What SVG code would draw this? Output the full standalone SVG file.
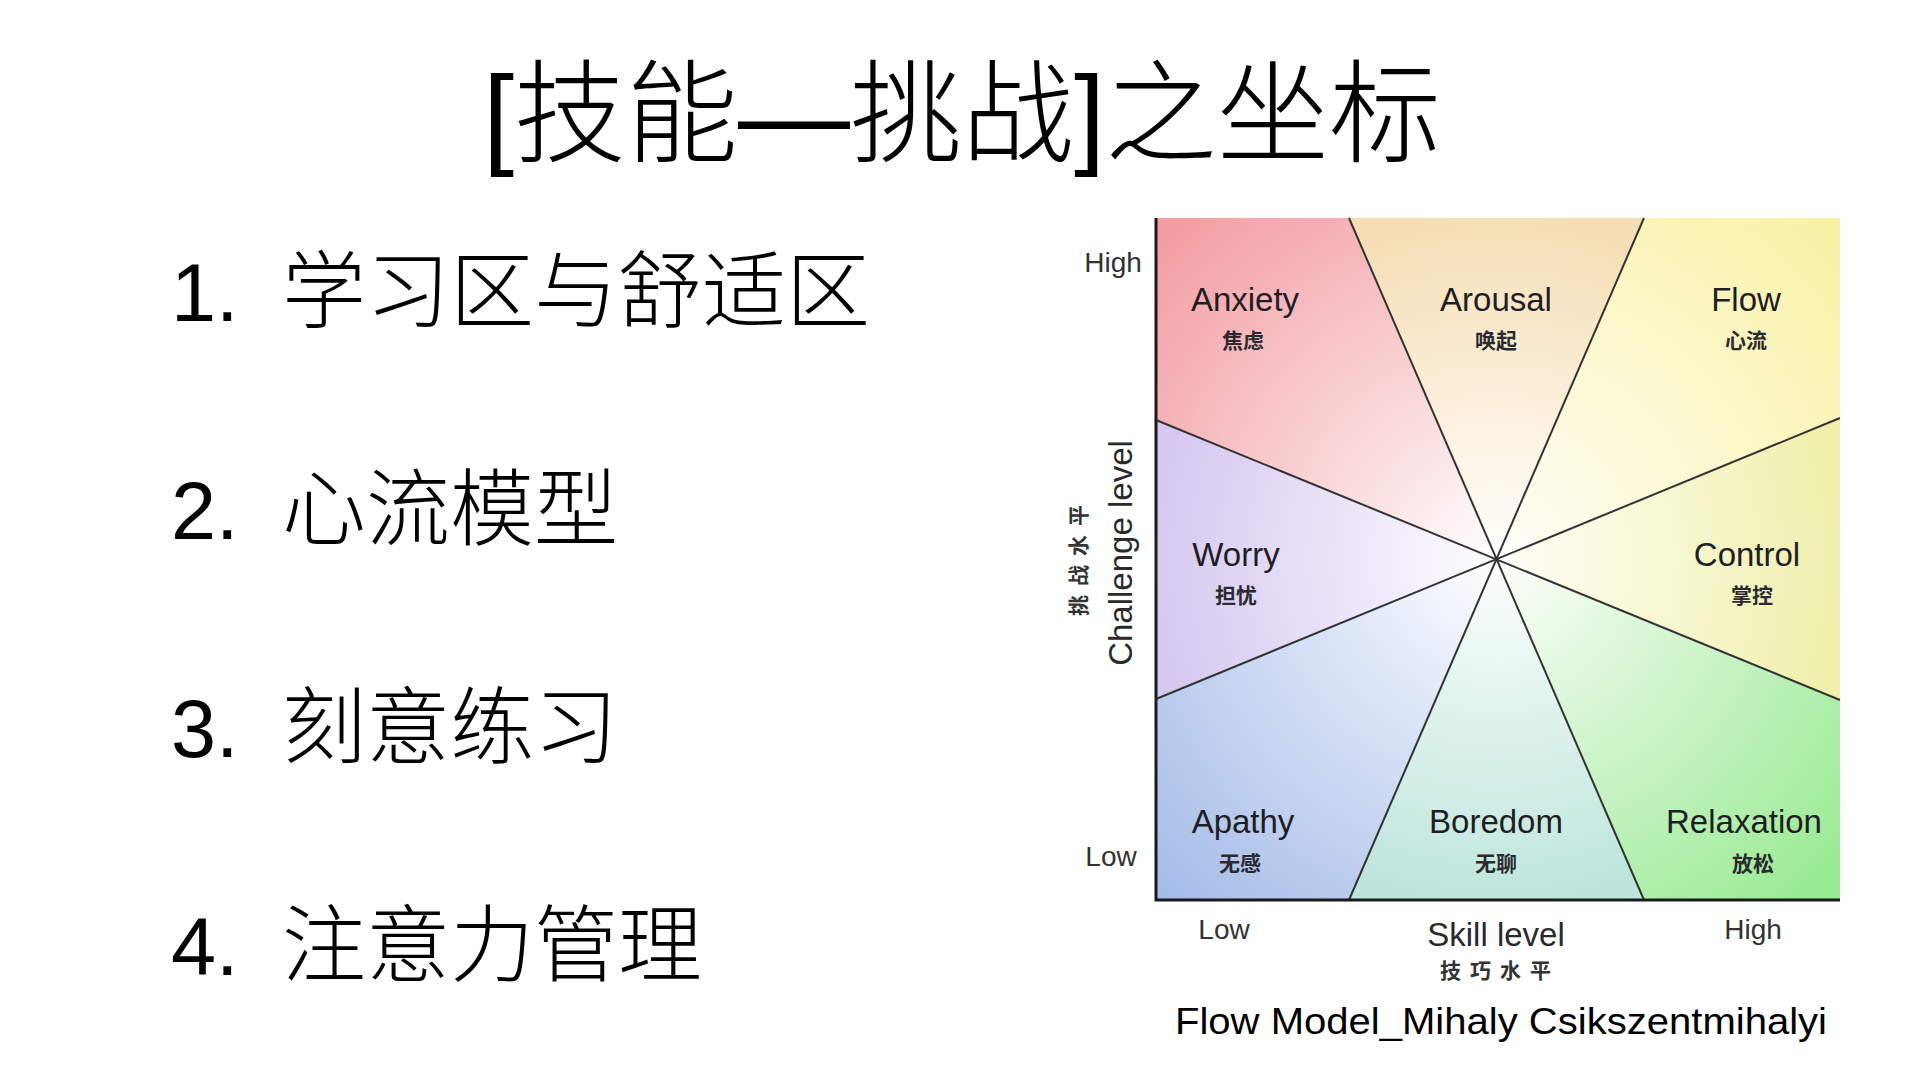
<svg xmlns="http://www.w3.org/2000/svg" width="1920" height="1080" viewBox="0 0 1920 1080">
<style>
.title{font-family:"Liberation Sans","Noto Sans CJK SC",sans-serif;font-size:112px;font-weight:300;fill:#000;text-anchor:middle}
.num{font-family:"Liberation Sans","Noto Sans CJK SC",sans-serif;font-size:81px;fill:#000}
.item{font-family:"Noto Sans CJK SC",sans-serif;font-size:84px;font-weight:300;fill:#000}
.en{font-family:"Liberation Sans","Noto Sans CJK SC",sans-serif;font-size:33px;fill:#1e1e24;text-anchor:middle}
.zh{font-family:"Noto Sans CJK SC",sans-serif;font-size:21px;font-weight:bold;fill:#2a2a30;text-anchor:middle}
.tick{font-family:"Liberation Sans",sans-serif;font-size:28px;fill:#333;text-anchor:middle}
.axis{font-family:"Liberation Sans",sans-serif;font-size:33px;fill:#2a2a2a;text-anchor:middle}
.axzh{font-family:"Noto Sans CJK SC",sans-serif;font-size:21px;font-weight:bold;fill:#333;text-anchor:middle;letter-spacing:9px}
.cap{font-family:"Liberation Sans",sans-serif;font-size:36px;fill:#000;text-anchor:middle}
.div{stroke:#333;stroke-width:2;fill:none}
.ax{stroke:#1a1a1a;stroke-width:3;fill:none}
</style>
<defs>
<radialGradient id="gAnx" gradientUnits="userSpaceOnUse" cx="1496" cy="560" r="470"><stop offset="0" stop-color="#fff"/><stop offset="0.1" stop-color="#fdf4f4"/><stop offset="1" stop-color="#f39ca1"/></radialGradient>
<radialGradient id="gAro" gradientUnits="userSpaceOnUse" cx="1496" cy="560" r="345"><stop offset="0" stop-color="#fff"/><stop offset="0.1" stop-color="#fffcf6"/><stop offset="1" stop-color="#f5deb4"/></radialGradient>
<radialGradient id="gFlo" gradientUnits="userSpaceOnUse" cx="1496" cy="560" r="470"><stop offset="0" stop-color="#fff"/><stop offset="0.1" stop-color="#fffdf0"/><stop offset="1" stop-color="#f8f2a6"/></radialGradient>
<radialGradient id="gCon" gradientUnits="userSpaceOnUse" cx="1496" cy="560" r="345"><stop offset="0" stop-color="#fff"/><stop offset="0.1" stop-color="#fdfdf2"/><stop offset="1" stop-color="#f0f0ac"/></radialGradient>
<radialGradient id="gRel" gradientUnits="userSpaceOnUse" cx="1496" cy="560" r="470"><stop offset="0" stop-color="#fff"/><stop offset="0.1" stop-color="#f4fcf2"/><stop offset="1" stop-color="#96ea90"/></radialGradient>
<radialGradient id="gBor" gradientUnits="userSpaceOnUse" cx="1496" cy="560" r="345"><stop offset="0" stop-color="#fff"/><stop offset="0.1" stop-color="#f6fcfa"/><stop offset="1" stop-color="#bde6da"/></radialGradient>
<radialGradient id="gApa" gradientUnits="userSpaceOnUse" cx="1496" cy="560" r="470"><stop offset="0" stop-color="#fff"/><stop offset="0.1" stop-color="#f4f7fd"/><stop offset="1" stop-color="#a5bce8"/></radialGradient>
<radialGradient id="gWor" gradientUnits="userSpaceOnUse" cx="1496" cy="560" r="345"><stop offset="0" stop-color="#fff"/><stop offset="0.1" stop-color="#faf8fe"/><stop offset="1" stop-color="#d6c8f0"/></radialGradient>
</defs>
<rect width="1920" height="1080" fill="#fff"/>
<text class="title" x="962" y="154">[技能—挑战]之坐标</text>
<g id="list">
<g id="item1"><text class="num" x="171" y="321">1.</text><text class="item" x="282" y="321">学习区与舒适区</text></g>
<g id="item2"><text class="num" x="171" y="539">2.</text><text class="item" x="282" y="539">心流模型</text></g>
<g id="item3"><text class="num" x="171" y="757">3.</text><text class="item" x="282" y="757">刻意练习</text></g>
<g id="item4"><text class="num" x="171" y="975">4.</text><text class="item" x="282" y="975">注意力管理</text></g>
</g>
<g id="chart">
<g id="regions">
<g id="anxiety"><polygon points="1156,218 1349,218 1496,560 1156,420" fill="url(#gAnx)"/><text class="en" x="1245" y="311">Anxiety</text><text class="zh" x="1243" y="348">焦虑</text></g>
<g id="arousal"><polygon points="1349,218 1644,218 1496,560" fill="url(#gAro)"/><text class="en" x="1496" y="311">Arousal</text><text class="zh" x="1496" y="348">唤起</text></g>
<g id="flow"><polygon points="1644,218 1840,218 1840,418 1496,560" fill="url(#gFlo)"/><text class="en" x="1746" y="311">Flow</text><text class="zh" x="1746" y="348">心流</text></g>
<g id="control"><polygon points="1840,418 1840,700 1496,560" fill="url(#gCon)"/><text class="en" x="1747" y="566">Control</text><text class="zh" x="1752" y="603">掌控</text></g>
<g id="relaxation"><polygon points="1840,700 1840,900 1644,900 1496,560" fill="url(#gRel)"/><text class="en" x="1744" y="833">Relaxation</text><text class="zh" x="1753" y="871">放松</text></g>
<g id="boredom"><polygon points="1644,900 1349,900 1496,560" fill="url(#gBor)"/><text class="en" x="1496" y="833">Boredom</text><text class="zh" x="1496" y="871">无聊</text></g>
<g id="apathy"><polygon points="1349,900 1156,900 1156,699 1496,560" fill="url(#gApa)"/><text class="en" x="1243" y="833">Apathy</text><text class="zh" x="1240" y="871">无感</text></g>
<g id="worry"><polygon points="1156,699 1156,420 1496,560" fill="url(#gWor)"/><text class="en" x="1236" y="566">Worry</text><text class="zh" x="1236" y="603">担忧</text></g>
</g>
<g id="connectors">
<line class="div" x1="1349" y1="218" x2="1644" y2="900"/>
<line class="div" x1="1644" y1="218" x2="1349" y2="900"/>
<line class="div" x1="1156" y1="420" x2="1840" y2="700"/>
<line class="div" x1="1156" y1="699" x2="1840" y2="418"/>
<polyline class="ax" points="1156,218 1156,900 1840,900"/>
</g>
<g id="labels">
<text class="tick" x="1113" y="272">High</text>
<text class="tick" x="1111" y="866">Low</text>
<text class="axis" transform="translate(1132,553) rotate(-90)">Challenge level</text>
<text class="axzh" transform="translate(1086,556) rotate(-90)">挑战水平</text>
<text class="tick" x="1224" y="939">Low</text>
<text class="axis" x="1496" y="946">Skill level</text>
<text class="axzh" x="1500" y="978">技巧水平</text>
<text class="tick" x="1753" y="939">High</text>
<text class="cap" x="1501" y="1034" textLength="652" lengthAdjust="spacingAndGlyphs">Flow Model_Mihaly Csikszentmihalyi</text>
</g>
</g>
</svg>
